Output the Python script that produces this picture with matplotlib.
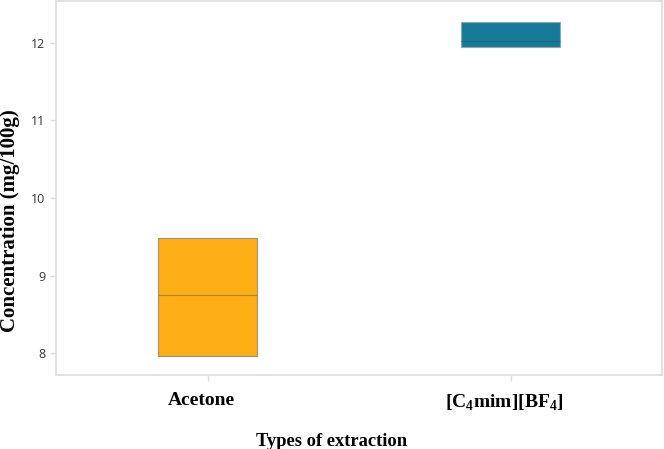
import matplotlib
matplotlib.use("Agg")
import matplotlib.pyplot as plt

# box summaries
categories = ["Acetone", r"[C$_\mathbf{4}$mim][BF$_\mathbf{4}$]"]
q1 = [7.97, 11.95]
medians = [8.75, 12.02]
q3 = [9.49, 12.27]
colors = ["#FDAE14", "#167A98"]
yticks = [8, 9, 10, 11, 12]

plt.rcParams["mathtext.fontset"] = "custom"
plt.rcParams["mathtext.rm"] = "Liberation Serif:bold"
plt.rcParams["mathtext.bf"] = "Liberation Serif:bold"

fig = plt.figure(figsize=(6.64, 4.49), dpi=100)
ax = fig.add_axes([56 / 664, 1 - 375 / 449, 606 / 664, 374 / 449])

stats = []
for i in range(len(categories)):
    stats.append({"q1": q1[i], "med": medians[i], "q3": q3[i],
                  "whislo": q1[i], "whishi": q3[i], "fliers": []})

pos = list(range(len(categories)))
boxes = ax.bxp(stats, positions=pos, widths=0.33,
               patch_artist=True, showcaps=False, showfliers=False,
               boxprops=dict(edgecolor="#9a8f80", linewidth=0.8),
               medianprops=dict(color="#b0822a", linewidth=0.8),
               whiskerprops=dict(linewidth=0))
for patch, c in zip(boxes["boxes"], colors):
    patch.set_facecolor(c)
boxes["medians"][1].set_color("#146a85")
boxes["boxes"][1].set_edgecolor("#8aa9b5")

ax.set_xlim(-0.5, 1.5)
ax.set_ylim(7.72, 12.54)
ax.set_yticks(yticks)

# tick marks on the categories, labels sit a bit to the left of them
ax.set_xticks(pos)
ax.set_xticklabels([])
ax.set_xticks([p - 0.02 for p in pos], minor=True)
ax.set_xticklabels(categories, minor=True, fontfamily="Liberation Serif",
                   fontweight="bold", fontsize=14)
ax.tick_params(axis="x", which="minor", length=0, pad=12.5)

for lab in ax.get_yticklabels():
    lab.set_fontfamily("Open Sans")
    lab.set_fontsize(9)
    lab.set_color("#333333")

for s in ax.spines.values():
    s.set_color("#dddddd")
    s.set_linewidth(1.2)
ax.tick_params(axis="both", which="major", color="#dddddd", length=4, width=1)

ax.set_xlabel("Types of extraction", fontfamily="Liberation Serif",
              fontweight="bold", fontsize=13.3)
ax.xaxis.set_label_coords(0.454, -0.155)
ax.set_ylabel("Concentration (mg/100g)", fontfamily="Liberation Serif",
              fontweight="bold", fontsize=15)
ax.yaxis.set_label_coords(-0.059, 0.414)

fig.savefig("out.png", dpi=100)
